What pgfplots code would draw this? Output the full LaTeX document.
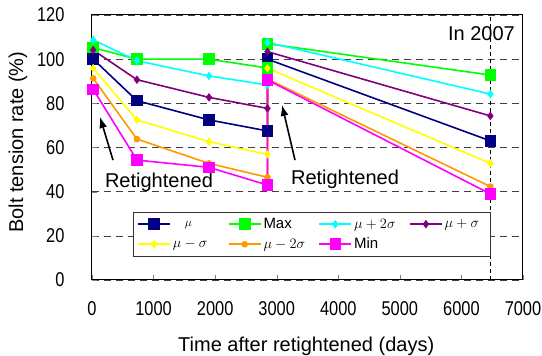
\documentclass[border=0pt]{standalone}
\usepackage{fontspec}
\setmainfont{Liberation Sans}
\usepackage{pgfplots}
\pgfplotsset{compat=1.18}
\usetikzlibrary{arrows.meta}
\definecolor{cnavy}{RGB}{0,0,128}
\definecolor{cgreen}{RGB}{0,255,0}
\definecolor{ccyan}{RGB}{0,255,255}
\definecolor{cpurple}{RGB}{128,0,128}
\definecolor{cyellow}{RGB}{255,255,0}
\definecolor{corange}{RGB}{255,153,0}
\definecolor{cmagenta}{RGB}{255,0,255}
\begin{document}
\begin{tikzpicture}
\begin{axis}[name=ax, scale only axis, width=431pt, height=265pt,
  xmin=0, xmax=7000, ymin=0, ymax=120,
  xtick={0,1000,...,7000}, ytick={0,20,...,120},
  tick align=inside, tick pos=left, major tick length=5pt,
  ymajorgrids, grid style={black!75, line width=0.6pt, dash pattern=on 7pt off 5pt},
  axis line style={line width=1pt},
  ticklabel style={font=\fontsize{20}{20}\selectfont},
  /pgf/number format/assume math mode=true,
  /pgf/number format/1000 sep={},
  xticklabel={\scalebox{0.82}[1]{\pgfmathprintnumber{\tick}}},
  yticklabel={\scalebox{0.82}[1]{\pgfmathprintnumber{\tick}}},
  xticklabel style={yshift=-18pt},
  yticklabel style={xshift=-24pt},
  xlabel={Time after retightened (days)},
  ylabel={Bolt tension rate (\%)},
  label style={font=\fontsize{20}{20}\selectfont},
  xlabel style={at={(axis description cs:0.497,-0.2)}, anchor=north},
  ylabel style={at={(axis description cs:-0.172,0.52)}, anchor=center, rotate=0},
  legend columns=4,
  legend style={at={(axis cs:666,30.8)}, anchor=north west, draw=black!80, line width=0.6pt,
    font=\fontsize{15}{16}\selectfont, inner xsep=4pt, inner ysep=4pt, row sep=4pt},
  legend image code/.code={\draw[mark repeat=2,mark phase=2] plot coordinates {(0pt,0pt) (16pt,0pt) (32pt,0pt)};},
]
\addplot[color=cnavy, line width=1.6pt, mark=square*, mark size=5pt]
  coordinates {(20,100) (730,81.2) (1900,72.5) (2850,67.5) (2850,100) (6470,63)};
\addlegendentry{\makebox[53pt][l]{\hspace{12pt}\fontsize{13}{13}\selectfont$\mu$}}
\addplot[color=cgreen, line width=1.6pt, mark=square*, mark size=5pt]
  coordinates {(20,105.2) (730,100) (1900,100) (2850,96) (2850,107) (6470,92.8)};
\addlegendentry{\makebox[53pt][l]{Max}}
\addplot[color=ccyan, line width=1.6pt, mark=diamond*, mark size=3pt]
  coordinates {(20,108.7) (730,99.3) (1900,92.4) (2850,88.3) (2850,107.6) (6470,84.2)};
\addlegendentry{\makebox[53pt][l]{$\mu+2\sigma$}}
\addplot[color=cpurple, line width=1.6pt, mark=diamond*, mark size=3pt]
  coordinates {(20,104.1) (730,90.7) (1900,82.7) (2850,77.7) (2850,103.4) (6470,74.3)};
\addlegendentry{\makebox[40pt][l]{$\mu+\sigma$}}
\addplot[color=cyellow, line width=1.6pt, mark=diamond*, mark size=3pt]
  coordinates {(20,95.9) (730,72.5) (1900,62.6) (2850,56.9) (2850,95.9) (6470,52.8)};
\addlegendentry{\makebox[53pt][l]{$\mu-\sigma$}}
\addplot[color=corange, line width=1.6pt, mark=*, mark size=2.5pt]
  coordinates {(20,91.3) (730,63.8) (1900,52.8) (2850,46.5) (2850,91) (6470,42.3)};
\addlegendentry{\makebox[53pt][l]{$\mu-2\sigma$}}
\addplot[color=cmagenta, line width=1.6pt, mark=square*, mark size=5pt]
  coordinates {(20,86.3) (730,54.3) (1900,51) (2850,43) (2850,90.6) (6470,39)};
\addlegendentry{\makebox[53pt][l]{Min}}
\addplot[black, line width=0.9pt, dash pattern=on 4pt off 3pt, forget plot]
  coordinates {(6470,0) (6470,120)};
\draw[line width=1.6pt, -{Latex[length=11pt,width=8pt]}] (axis cs:341,54.3) -- (axis cs:130,73.8);
\draw[line width=1.6pt, -{Latex[length=11pt,width=8pt]}] (axis cs:3297,54.3) -- (axis cs:3086,79.3);
\node[font=\fontsize{20}{20}\selectfont] at (axis cs:1088,44.2) {Retightened};
\node[font=\fontsize{20}{20}\selectfont] at (axis cs:4109,45.7) {Retightened};
\node[font=\fontsize{20}{20}\selectfont] at (axis cs:6326,111.4) {In 2007};
\end{axis}
\pgfresetboundingbox
\path[use as bounding box] ([shift={(-92pt,-76pt)}]ax.south west) rectangle ([shift={(450pt,280pt)}]ax.south west);
\end{tikzpicture}
\end{document}
